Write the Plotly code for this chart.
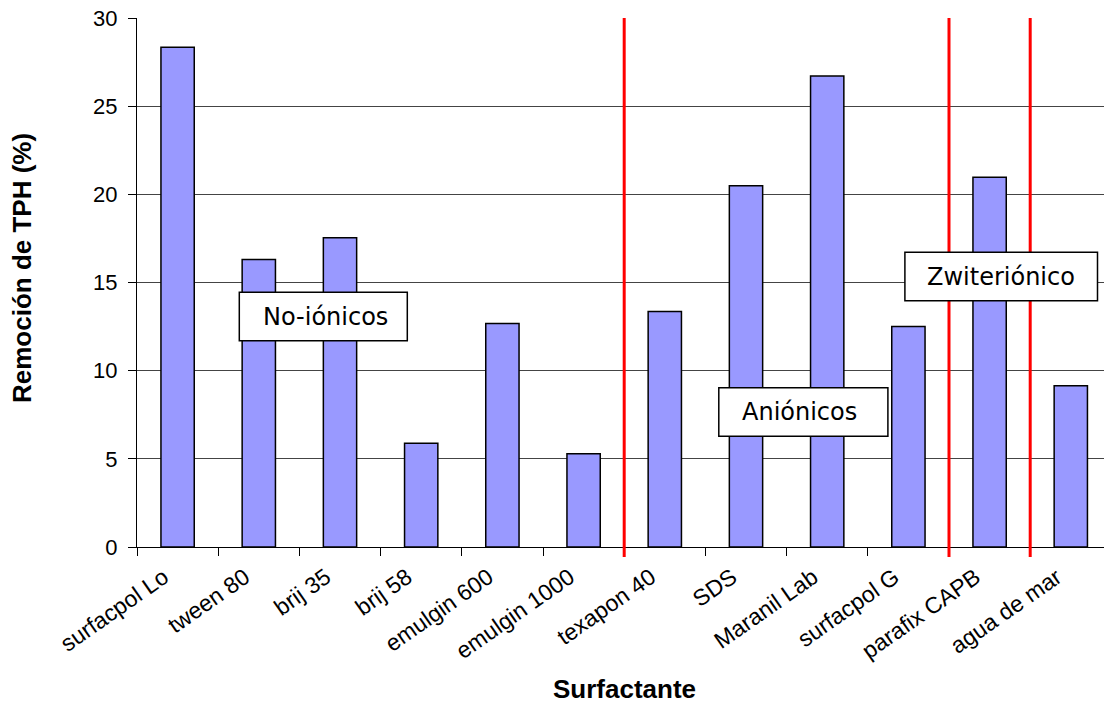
import plotly.graph_objects as go

# ---- data ----
categories = ["surfacpol Lo", "tween 80", "brij 35", "brij 58", "emulgin 600",
              "emulgin 1000", "texapon 40", "SDS", "Maranil Lab", "surfacpol G",
              "parafix CAPB", "agua de mar"]
tph_removal = [28.34, 16.30, 17.54, 5.88, 12.67, 5.29, 13.36, 20.48, 26.71, 12.51, 20.97, 9.15]
groups = ["No-iónicos"] * 6 + ["Aniónicos"] * 4 + ["Zwiteriónico"] + ["Control"]

# ---- layout geometry (pixels) ----
W, H = 1104, 705
L, T, B = 137, 18, 158
plot_w = W - L
plot_h = H - T - B
slot = 81.2  # pixel width of one category slot


def px_x(px):
    return (px - L) / plot_w


def px_y(py):
    return (H - B - py) / plot_h


fig = go.Figure()
fig.add_trace(go.Bar(
    x=categories, y=tph_removal, width=0.41,
    marker=dict(color="#9999FF", line=dict(color="black", width=1.5)),
    showlegend=False,
))

# red separators at group boundaries
shapes = []
for i in range(1, len(groups)):
    if groups[i] != groups[i - 1]:
        shapes.append(dict(type="line", xref="x", yref="paper",
                           x0=i - 0.5, x1=i - 0.5, y0=-10 / plot_h, y1=1,
                           line=dict(color="#FF0000", width=3), layer="above"))

# labelled boxes
boxes = [
    ("No-iónicos", 239.3, 292.3, 407.3, 340.7, 260.7),
    ("Aniónicos", 718.8, 387.7, 887.9, 436.3, 740.0),
    ("Zwiteriónico", 904.9, 252.3, 1097.5, 300.7, 925.0),
]
annotations = []
for text, x0, y0, x1, y1, tx in boxes:
    shapes.append(dict(type="rect", xref="paper", yref="paper",
                       x0=px_x(x0), x1=px_x(x1), y0=px_y(y1), y1=px_y(y0),
                       fillcolor="white", line=dict(color="black", width=1.5),
                       layer="above"))
    annotations.append(dict(text=text, xref="paper", yref="paper",
                            x=px_x(tx), y=px_y((y0 + y1) / 2),
                            xanchor="left", yanchor="middle", showarrow=False,
                            font=dict(family="DejaVu Sans", size=24, color="black")))

annotations.append(dict(text="<b>Surfactante</b>", xref="paper", yref="paper",
                        x=px_x(624.5), y=px_y(689), xanchor="center", yanchor="middle",
                        showarrow=False,
                        font=dict(family="Liberation Sans, Arial", size=26, color="black")))
annotations.append(dict(text="<b>Remoción de TPH (%)</b>", xref="paper", yref="paper",
                        x=px_x(22), y=px_y(268), xanchor="center", yanchor="middle",
                        textangle=-90, showarrow=False,
                        font=dict(family="Liberation Sans, Arial", size=26, color="black")))

fig.update_layout(
    width=W, height=H,
    margin=dict(l=L, r=0, t=T, b=B, pad=0),
    paper_bgcolor="white", plot_bgcolor="white",
    font=dict(family="Liberation Sans, Arial", size=22, color="black"),
    shapes=shapes, annotations=annotations,
)
fig.update_xaxes(
    range=[-0.5, -0.5 + plot_w / slot],
    showline=True, linecolor="black", linewidth=1,
    ticks="outside", ticklen=8, tickcolor="black", tickson="boundaries",
    tickangle=-35, showgrid=False, zeroline=False,
    tickfont=dict(size=23), ticklabelshift=-14, ticklabelstandoff=7,
)
fig.update_yaxes(
    range=[0, 30], dtick=5,
    showline=True, linecolor="black", linewidth=1,
    ticks="outside", ticklen=8, tickcolor="black",
    showgrid=True, gridcolor="#444444", gridwidth=1, zeroline=False,
    tickfont=dict(size=22), ticklabelstandoff=6,
)

fig.write_html("out.html")
